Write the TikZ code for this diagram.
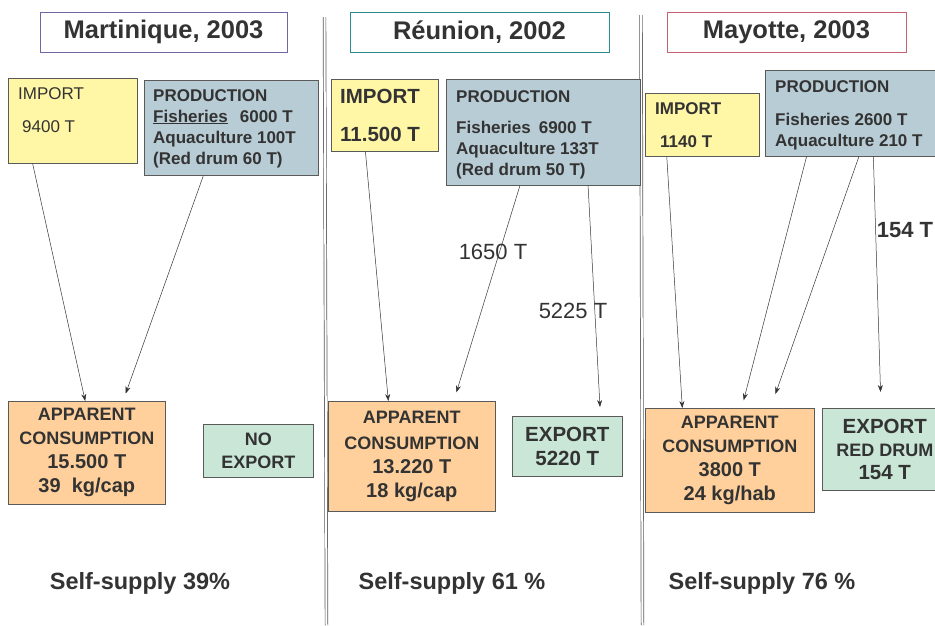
\documentclass[tikz,border=0pt]{standalone}
\usepackage{fontspec}
\setmainfont{Liberation Sans}
\usetikzlibrary{arrows.meta, positioning, calc}
\definecolor{txtgray}{HTML}{333333}
\definecolor{importfill}{HTML}{FFF7A6}
\definecolor{prodfill}{HTML}{B8CCD6}
\definecolor{consfill}{HTML}{FFD09B}
\definecolor{expfill}{HTML}{C9E6D6}
\definecolor{edgegray}{HTML}{5A5A5A}
\definecolor{martiniqueline}{HTML}{6F67A3}
\definecolor{reunionline}{HTML}{2B8C8E}
\definecolor{mayotteline}{HTML}{C2636F}
\newcommand{\fs}[2]{\fontsize{#1}{#2}\selectfont}

\begin{document}
\begin{tikzpicture}[
		x=1pt, y=-1pt,
		every node/.style={text=txtgray},
		box/.style={
				draw=edgegray,
				line width=0.6pt,
				anchor=north west,
				inner sep=0pt,
			},
		importbox/.style={box, fill=importfill},
		prodbox/.style={box, fill=prodfill},
		consbox/.style={box, fill=consfill, align=center, font=\bfseries\fs{18}{24}},
		exportbox/.style={box, fill=expfill, align=center, font=\bfseries\fs{18}{23}},
		titlebox/.style={
				draw,
				line width=0.8pt,
				minimum height=40pt,
				font=\bfseries\fs{25.5}{28},
			},
		boxtext/.style={anchor=north west, inner sep=0pt, align=left, font=\bfseries\fs{17}{21}},
		flow/.style={draw=txtgray, line width=0.5pt, -{Stealth[length=7pt, width=5pt]}},
		flowlabel/.style={font=\fs{22}{26}},
		sep/.style={draw=black!65, double=white, line width=0.7pt, double distance=2pt},
		supply/.style={font=\bfseries\fs{23.5}{26}},
	]

	\useasboundingbox (0,0) rectangle (935,625);

	% Trennlinien zwischen den drei Inseln
	\draw[sep] (324.5,17) -- (326.5,625);
	\draw[sep] (641,15) -- (642.5,625);

	% Überschriften
	\node[titlebox, draw=martiniqueline, minimum width=247pt] (titleM) at (163.5,32) {Martinique, 2003};
	\node[titlebox, draw=reunionline, minimum width=259pt] (titleR) at (479.5,32) {Réunion, 2002};
	\node[titlebox, draw=mayotteline, minimum width=239pt] (titleY) at (786.5,32) {Mayotte, 2003};

	% Martinique
	\node[importbox, minimum width=129pt, minimum height=85pt] (impM) at (8,78) {};
	\node[boxtext, font=\fs{17}{21}] (impMtxt) at (18,87) {IMPORT\\[12pt]\hspace{4pt}9400 T};
	\node[prodbox, minimum width=174pt, minimum height=95pt] (prodM) at (144,80) {};
	\node[boxtext] (prodMtxt) at (153,89)
	{PRODUCTION\\\underline{Fisheries}\hspace{12pt}6000 T\\Aquaculture 100T\\(Red drum 60 T)};
	\node[consbox, minimum width=157pt, minimum height=103pt] (consM) at (8,401)
	{APPARENT\\CONSUMPTION\\{\fs{20}{24}15.500 T}\\{\fs{20}{24}39\ \ kg/cap}};
	\node[exportbox, minimum width=110pt, minimum height=53pt] (expM) at (203,424) {NO\\EXPORT};
	\node[supply] (supplyM) at (140,583) {Self-supply 39\%};

	\draw[flow] ($(impM.south west)!.19!(impM.south east)$) -- ($(consM.north west)!.49!(consM.north east)$);
	\draw[flow, shorten >=8pt] ($(prodM.south west)!.34!(prodM.south east)$) -- ($(consM.north west)!.73!(consM.north east)$);

	% Réunion
	\node[importbox, minimum width=107pt, minimum height=72pt] (impR) at (331,79) {};
	\node[boxtext, font=\bfseries\fs{20.5}{25}] (impRtxt) at (340,89) {IMPORT\\[13pt]11.500 T};
	\node[prodbox, minimum width=194pt, minimum height=106pt] (prodR) at (446,79) {};
	\node[boxtext] (prodRtxt) at (456,90)
	{PRODUCTION\\[10pt]Fisheries\hspace{8pt}6900 T\\Aquaculture 133T\\(Red drum 50 T)};
	\node[consbox, minimum width=167pt, minimum height=110pt] (consR) at (328,401)
	{APPARENT\\[2pt]CONSUMPTION\\{\fs{20}{24}13.220 T}\\{\fs{20}{24}18 kg/cap}};
	\node[exportbox, font=\bfseries\fs{20.5}{24}, minimum width=110pt, minimum height=60pt] (expR) at (512,416) {EXPORT\\5220 T};
	\node[supply] (supplyR) at (452,583) {Self-supply 61 \%};

	\draw[flow] ($(impR.south west)!.32!(impR.south east)$) -- ($(consR.north west)!.36!(consR.north east)$);
	\draw[flow, shorten >=9pt] ($(prodR.south west)!.38!(prodR.south east)$) -- ($(consR.north west)!.75!(consR.north east)$);
	\draw[flow, shorten >=9pt] ($(prodR.south west)!.73!(prodR.south east)$) -- ($(expR.north west)!.8!(expR.north east)$);
	\node[flowlabel] (labR1) at (493,252) {1650 T};
	\node[flowlabel] (labR2) at (573,311) {5225 T};

	% Mayotte
	\node[importbox, minimum width=114pt, minimum height=63pt] (impY) at (645,93) {};
	\node[boxtext] (impYtxt) at (655,102) {IMPORT\\[12pt]\hspace{5pt}1140 T};
	\node[prodbox, minimum width=180pt, minimum height=86pt] (prodY) at (765,70) {};
	\node[boxtext] (prodYtxt) at (775,80)
	{PRODUCTION\\[12pt]Fisheries 2600 T\\Aquaculture 210 T};
	\node[consbox, minimum width=169pt, minimum height=104pt] (consY) at (645,408)
	{APPARENT\\CONSUMPTION\\{\fs{20}{24}3800 T}\\{\fs{20}{24}24 kg/hab}};
	\node[exportbox, minimum width=125pt, minimum height=82pt] (expY) at (822,408)
	{{\fs{20.5}{23}EXPORT}\\RED DRUM\\{\fs{20.5}{23}154 T}};
	\node[supply] (supplyY) at (762,583) {Self-supply 76 \%};

	\draw[flow] ($(impY.south west)!.19!(impY.south east)$) -- ($(consY.north west)!.22!(consY.north east)$);
	\draw[flow, shorten >=8pt] ($(prodY.south west)!.23!(prodY.south east)$) -- ($(consY.north west)!.57!(consY.north east)$);
	\draw[flow, shorten >=15pt] ($(prodY.south west)!.52!(prodY.south east)$) -- ($(consY.north west)!.74!(consY.north east)$);
	\draw[flow, shorten >=16pt] ($(prodY.south west)!.6!(prodY.south east)$) -- ($(expY.north west)!.47!(expY.north east)$);
	\node[flowlabel, font=\bfseries\fs{22}{26}] (labY) at (905,230) {154 T};

\end{tikzpicture}
\end{document}
